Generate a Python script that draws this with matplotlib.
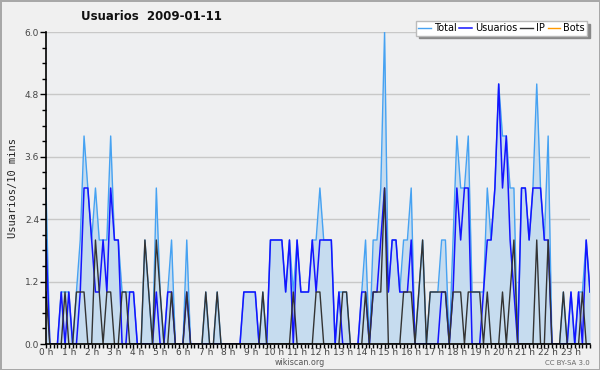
import numpy as np
import matplotlib
matplotlib.use("Agg")
import matplotlib.pyplot as plt
from matplotlib.ticker import MultipleLocator

# 10-minute slots over the day (144 values)
usuarios = [2, 0, 0, 0, 1, 0, 1, 0, 0, 1, 3, 3,
            2, 1, 1, 2, 1, 3, 2, 2, 0, 0, 1, 1,
            0, 0, 0, 0, 0, 1, 0, 0, 1, 1, 0, 0,
            0, 1, 0, 0, 0, 0, 0, 0, 0, 0, 0, 0,
            0, 0, 0, 0, 1, 1, 1, 1, 0, 0, 0, 2,
            2, 2, 2, 1, 2, 0, 2, 1, 1, 1, 2, 1,
            2, 2, 2, 2, 0, 1, 0, 0, 0, 0, 0, 1,
            1, 0, 1, 1, 2, 3, 1, 2, 2, 1, 1, 1,
            2, 0, 0, 0, 0, 0, 0, 0, 1, 1, 0, 1,
            3, 2, 3, 3, 0, 0, 0, 1, 2, 2, 3, 5,
            3, 4, 2, 1, 0, 3, 3, 2, 3, 3, 3, 2,
            2, 0, 0, 0, 0, 0, 1, 0, 1, 0, 2, 1]

ip = [1, 0, 0, 0, 0, 1, 0, 0, 1, 1, 1, 0,
      0, 2, 1, 0, 1, 1, 0, 0, 1, 1, 0, 0,
      0, 0, 2, 1, 0, 2, 1, 0, 0, 1, 0, 0,
      0, 1, 0, 0, 0, 0, 1, 0, 0, 1, 0, 0,
      0, 0, 0, 0, 0, 0, 0, 0, 0, 1, 0, 0,
      0, 0, 0, 0, 0, 1, 0, 0, 0, 0, 0, 1,
      1, 0, 0, 0, 0, 0, 1, 1, 0, 0, 0, 0,
      1, 0, 1, 1, 1, 3, 0, 0, 0, 0, 1, 1,
      1, 0, 1, 2, 0, 1, 1, 1, 1, 1, 0, 1,
      1, 1, 0, 1, 1, 1, 1, 0, 1, 0, 0, 0,
      1, 0, 1, 2, 0, 0, 0, 0, 0, 2, 0, 0,
      2, 0, 0, 0, 1, 0, 0, 0, 0, 1, 0, 0]

total = [3, 0, 0, 0, 1, 1, 1, 0, 1, 2, 4, 3,
         2, 3, 2, 2, 2, 4, 2, 2, 1, 1, 1, 1,
         0, 0, 2, 1, 0, 3, 1, 0, 1, 2, 0, 0,
         0, 2, 0, 0, 0, 0, 1, 0, 0, 1, 0, 0,
         0, 0, 0, 0, 1, 1, 1, 1, 0, 1, 0, 2,
         2, 2, 2, 1, 2, 1, 2, 1, 1, 1, 2, 2,
         3, 2, 2, 2, 0, 1, 1, 1, 0, 0, 0, 1,
         2, 0, 2, 2, 3, 6, 1, 2, 2, 1, 2, 2,
         3, 0, 1, 2, 0, 1, 1, 1, 2, 2, 0, 2,
         4, 3, 3, 4, 1, 1, 1, 1, 3, 2, 3, 5,
         4, 4, 3, 3, 0, 3, 3, 2, 3, 5, 3, 2,
         4, 0, 0, 0, 1, 0, 1, 0, 1, 1, 2, 1]

bots = [0] * 144

hour_labels = [f"{h} h" for h in range(24)]

x = np.arange(len(total))

fig = plt.figure(figsize=(6, 3.7), dpi=100)
fig.patch.set_facecolor('#f0f0f0')
fig.patch.set_edgecolor('#a8a8a8')
fig.patch.set_linewidth(2)
ax = fig.add_axes([46 / 600, 1 - 344 / 370, 544 / 600, 312 / 370])
ax.set_facecolor('#eeeff1')

ax.fill_between(x, total, 0, color='#c6dcef', linewidth=0, zorder=1)
ax.plot(x, total, color='#46a2f2', lw=1.0, label='Total', zorder=2)
ax.plot(x, usuarios, color='#1414ff', lw=1.1, label='Usuarios', zorder=2.1)
ax.plot(x, ip, color='#333333', lw=1.0, label='IP', zorder=2.2)
ax.plot(x, bots, color='#ff9900', lw=1.0, label='Bots', zorder=1.5)

ax.set_xlim(0, len(total) - 1)
ax.set_ylim(0, 6)

ax.set_yticks(np.arange(0, 6.01, 1.2))
ax.set_yticklabels([f"{v:.1f}" for v in np.arange(0, 6.01, 1.2)])
ax.yaxis.set_minor_locator(MultipleLocator(0.3))
ax.set_xticks(np.arange(0, 144, 6))
ax.set_xticklabels(hour_labels)
ax.xaxis.set_minor_locator(MultipleLocator(1))
ax.tick_params(axis='y', which='major', labelsize=6.5, labelcolor='#444444',
               length=4, width=1, pad=1)
ax.tick_params(axis='x', which='major', labelsize=6.5, labelcolor='#444444',
               length=3, width=1, pad=0)
ax.tick_params(axis='both', which='minor', length=3, width=1)
ax.grid(axis='y', color='#c8c8c8', lw=1, zorder=0)
ax.set_axisbelow(True)

for s in ['top', 'right']:
    ax.spines[s].set_visible(False)
ax.spines['left'].set_linewidth(1.2)
ax.spines['bottom'].set_linewidth(1.2)

ax.set_ylabel('Usuarios/10 mins', family='DejaVu Sans Mono', fontsize=7.5,
              color='#222222', labelpad=5)

fig.text(151 / 600, 1 - 16 / 370, 'Usuarios  2009-01-11', ha='center', va='center',
         fontsize=8.5, fontweight='bold', color='#111111')
fig.text(300 / 600, 1 - 362.5 / 370, 'wikiscan.org', ha='center', va='center',
         fontsize=5.8, color='#555555')
fig.text(590 / 600, 1 - 363 / 370, 'CC BY-SA 3.0', ha='right', va='center',
         fontsize=5, color='#666666')

leg = fig.legend(loc='upper right', bbox_to_anchor=(592 / 600, 1 - 16 / 370),
                 ncol=4, fontsize=7, handlelength=1.3, handletextpad=0.3,
                 columnspacing=0.3, borderpad=0.25, fancybox=False,
                 frameon=True, shadow={'color': '#888888', 'alpha': 1})
leg.get_frame().set_edgecolor('#bbbbbb')
leg.get_frame().set_linewidth(1)

fig.savefig('out.png', dpi=100, facecolor=fig.get_facecolor(),
            edgecolor=fig.get_edgecolor())
